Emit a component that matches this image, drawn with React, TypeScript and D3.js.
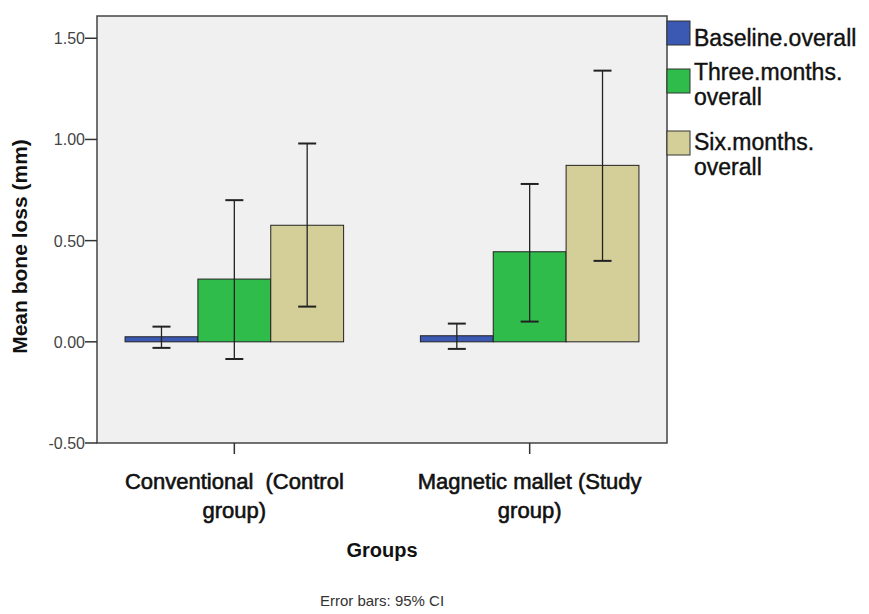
import React from 'react';
import * as d3 from 'd3';

// groups on the x axis
const groups = ['Conventional  (Control group)', 'Magnetic mallet (Study group)'];
const groupLines = [
  ['Conventional  (Control', 'group)'],
  ['Magnetic mallet (Study', 'group)'],
];
const seriesNames = ['Baseline.overall', 'Three.months.overall', 'Six.months.overall'];
const legendLines = [['Baseline.overall'], ['Three.months.', 'overall'], ['Six.months.', 'overall']];

// means, one array per series (control, study)
const baseline = [0.02, 0.025];
const threeMonths = [0.31, 0.445];
const sixMonths = [0.576, 0.872];

// 95% CI bounds
const baselineLow = [-0.03, -0.035];
const baselineHigh = [0.075, 0.09];
const threeLow = [-0.085, 0.1];
const threeHigh = [0.7, 0.78];
const sixLow = [0.174, 0.4];
const sixHigh = [0.98, 1.34];

const yTicks = [-0.5, 0, 0.5, 1.0, 1.5];

const colors = ['#3b58b3', '#2fbc4b', '#d4cf99'];

const W = 869;
const H = 614;
const left = 97;
const right = 667;
const top = 16;
const bottom = 443;

export default function App() {
  const means = [baseline, threeMonths, sixMonths];
  const lows = [baselineLow, threeLow, sixLow];
  const highs = [baselineHigh, threeHigh, sixHigh];

  const y = d3.scaleLinear().domain([-0.5, 1.61]).range([bottom, top]);
  const x0 = d3.scaleBand().domain(groups).range([left, right]).paddingInner(0.26).paddingOuter(0.095);
  const x1 = d3.scaleBand().domain(seriesNames).range([0, x0.bandwidth()]);

  const font = 'Arial, "Liberation Sans", sans-serif';

  return (
    <svg width={W} height={H} style={{ position: 'absolute', left: 0, top: 0 }} fontFamily={font}>
      <rect x={0} y={0} width={W} height={H} fill="#fff" />
      <rect x={left} y={top} width={right - left} height={bottom - top} fill="#f0f0f0" stroke="#444" strokeWidth={1.5} />

      {/* bars */}
      {groups.map((g, gi) =>
        seriesNames.map((s, si) => {
          const v = means[si][gi];
          const bx = x0(g)! + x1(s)!;
          const y0 = y(0);
          const yv = y(v);
          return (
            <rect
              key={g + s}
              x={bx}
              y={Math.min(y0, yv) - (si === 0 ? 1 : 0)}
              width={x1.bandwidth()}
              height={Math.abs(y0 - yv) + (si === 0 ? 1 : 0)}
              fill={colors[si]}
              stroke="#222"
              strokeWidth={1}
            />
          );
        })
      )}

      {/* error bars */}
      {groups.map((g, gi) =>
        seriesNames.map((s, si) => {
          const cx = x0(g)! + x1(s)! + x1.bandwidth() / 2;
          const lo = y(lows[si][gi]);
          const hi = y(highs[si][gi]);
          return (
            <g key={'e' + g + s} stroke="#222" strokeWidth={1.3}>
              <line x1={cx} x2={cx} y1={hi} y2={lo} />
              <line x1={cx - 9} x2={cx + 9} y1={hi} y2={hi} strokeWidth={2} />
              <line x1={cx - 9} x2={cx + 9} y1={lo} y2={lo} strokeWidth={2} />
            </g>
          );
        })
      )}

      {/* y axis */}
      {yTicks.map((t) => (
        <g key={t}>
          <line x1={left - 12} x2={left} y1={y(t)} y2={y(t)} stroke="#333" strokeWidth={1.5} />
          <text x={left - 12} y={y(t) + 6} textAnchor="end" fontSize={16} fill="#444">
            {t.toFixed(2)}
          </text>
        </g>
      ))}

      {/* x ticks and labels */}
      {groups.map((g, gi) => {
        const cx = x0(g)! + x0.bandwidth() / 2;
        return (
          <g key={'x' + g}>
            <line x1={cx} x2={cx} y1={bottom} y2={bottom + 11} stroke="#333" strokeWidth={1.5} />
            {groupLines[gi].map((ln, li) => (
              <text
                key={li}
                x={cx}
                y={489 + li * 29}
                textAnchor="middle"
                fontSize={22}
                fill="#111"
                stroke="#111"
                strokeWidth={0.6}
                style={{ whiteSpace: 'pre' }}
              >
                {ln}
              </text>
            ))}
          </g>
        );
      })}

      <text x={(left + right) / 2 + 0} y={557} textAnchor="middle" fontSize={20} fontWeight="bold" fill="#111">
        Groups
      </text>
      <text
        transform={`translate(27,${(top + bottom) / 2 + 17}) rotate(-90)`}
        textAnchor="middle"
        fontSize={21}
        fontWeight="bold"
        fill="#111"
      >
        Mean bone loss (mm)
      </text>
      <text x={(left + right) / 2} y={606} textAnchor="middle" fontSize={15} fill="#333">
        Error bars: 95% CI
      </text>

      {/* legend */}
      {seriesNames.map((s, si) => {
        const sy = [21, 69, 131][si];
        const by = [46, 80, 150][si];
        return (
          <g key={'l' + s}>
            <rect x={667} y={sy} width={23} height={24} fill={colors[si]} stroke="#333" strokeWidth={1} />
            {legendLines[si].map((ln, li) => (
              <text key={li} x={694} y={by + li * 25} fontSize={23} fill="#111" stroke="#111" strokeWidth={0.4}>
                {ln}
              </text>
            ))}
          </g>
        );
      })}
    </svg>
  );
}
